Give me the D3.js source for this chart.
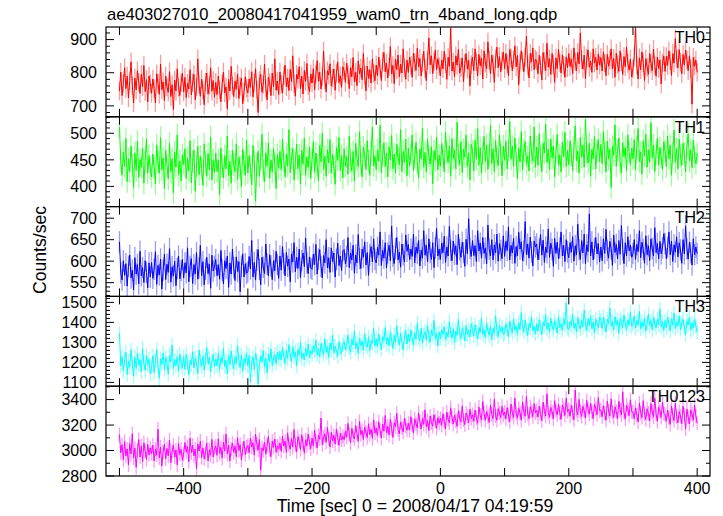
<!DOCTYPE html>
<html><head><meta charset="utf-8">
<script src="https://cdn.jsdelivr.net/npm/d3@7"></script>
<style>body{margin:0;background:#fff}svg{display:block}text{font-family:"Liberation Sans",Arial,sans-serif;fill:#000}</style>
</head><body><svg id="c" width="723" height="516"></svg>
<script>
const title = "ae403027010_20080417041959_wam0_trn_4band_long.qdp";
const xLabel = "Time [sec] 0 = 2008/04/17 04:19:59";
const yLabel = "Counts/sec";
const tStart = -500, tStep = 2;
const xTicks = [-500,-400,-300,-200,-100,0,100,200,300,400];
const xTickLabels = [-400,-200,0,200,400];
const bandNames = ["TH0","TH1","TH2","TH3","TH0123"];
const bandColors = ["#ff0000","#00ff00","#0000ff","#00ffff","#ff00ff"];
const bandErrors = [28,21,25,36,56];
const yDomains = [[667,938],[362,531],[518,727],[1081,1530],[2800,3505]];
const yMajor = [[700,800,900],[400,450,500],[550,600,650,700],[1100,1200,1300,1400,1500],[2800,3000,3200,3400]];
const yMinorStep = [20,10,10,20,100];

const th0 = [
745,802,731,768,815,752,790,724,776,833,761,709,784,748,806,771,737,795,758,822,743,779,712,790,766,
738,781,752,709,797,768,735,826,749,772,716,790,757,741,803,728,764,689,778,745,812,756,731,770,798,
742,786,725,768,751,809,733,770,795,718,757,842,764,729,781,748,703,772,799,736,760,815,744,777,726,
771,734,790,748,712,767,802,739,757,691,780,745,819,761,728,774,750,796,722,759,784,706,742,788,753,
739,781,756,803,727,769,812,748,680,776,795,741,764,826,753,718,787,770,731,799,758,842,747,775,734,
802,765,739,791,823,758,784,746,810,773,851,767,729,795,781,818,752,790,736,807,774,828,761,743,796,
769,812,748,795,837,774,802,751,788,865,779,742,806,793,827,760,784,811,747,799,833,770,791,756,818,
806,771,829,794,752,815,788,846,773,801,761,836,797,814,779,858,792,745,820,783,809,769,842,798,776,
823,791,847,812,776,835,861,803,829,784,818,879,796,822,767,841,809,853,788,826,799,872,815,780,838,
801,847,822,786,859,831,807,874,818,843,790,829,865,812,776,838,905,824,851,797,833,868,809,842,819,
791,838,812,865,827,780,846,819,934,805,832,788,851,823,870,799,816,845,773,829,858,811,837,760,824,
847,806,872,833,790,855,821,844,781,866,829,812,893,838,797,853,826,771,842,877,815,849,803,836,862,
812,858,827,791,870,845,806,839,881,818,852,764,829,866,835,803,847,910,821,784,858,832,875,809,841,
836,797,853,822,778,861,834,806,889,817,842,795,858,826,771,845,812,870,831,799,854,823,786,848,815,
858,819,842,797,875,833,806,861,826,920,838,811,853,782,844,869,817,835,801,872,829,846,808,857,823,
846,805,863,829,791,855,820,838,872,811,843,786,859,825,804,866,832,795,849,818,877,828,808,841,787,
812,849,936,823,781,845,809,863,830,776,842,817,795,858,828,806,871,821,789,847,813,838,766,829,851,
804,849,822,866,837,792,858,829,903,841,815,870,832,797,855,823,868,839,806,851,812,705,846,820,838,
801];
const th1 = [
512,448,421,465,437,490,409,452,428,476,441,398,463,430,485,417,451,436,472,406,447,489,425,458,433,
418,461,437,405,478,446,425,492,431,454,396,468,439,414,481,427,452,388,465,436,497,421,448,410,459,
442,471,415,453,429,486,407,447,468,391,438,475,422,457,434,402,480,445,419,462,431,493,412,450,426,
463,428,450,385,472,439,416,458,433,495,420,447,406,468,441,428,480,413,455,437,399,470,444,421,487,
425,458,436,403,477,448,372,441,466,419,452,498,430,409,463,438,482,415,450,427,471,443,396,460,434,
466,431,489,447,418,461,438,507,426,453,471,412,445,480,433,459,404,468,442,491,421,455,436,474,415,
450,484,427,463,439,411,478,446,500,432,457,419,469,444,488,425,461,437,404,473,449,492,430,458,416,
471,438,456,423,495,447,429,466,410,481,452,437,503,443,418,474,459,432,486,448,421,465,512,439,457,
431,469,447,515,426,458,482,437,463,418,475,450,496,433,461,425,479,454,441,507,428,466,445,489,420,
472,438,461,497,429,455,483,444,416,470,452,510,436,464,427,488,457,442,475,405,467,449,493,431,459,
438,481,456,427,502,463,445,476,419,490,452,468,433,521,459,441,484,426,470,455,497,437,463,412,479,
466,429,487,451,509,440,473,425,462,494,447,478,432,458,515,443,471,428,486,454,439,497,461,420,476,
449,485,433,467,522,451,476,438,491,459,414,472,446,503,431,468,484,442,457,429,495,463,447,512,436,
474,440,499,455,428,481,463,517,445,470,432,489,453,476,418,465,498,441,459,427,483,456,502,437,468,
441,486,459,430,473,514,448,466,425,492,455,478,436,527,462,444,481,419,470,452,494,433,467,488,447,
479,443,503,461,427,485,452,470,398,476,459,516,438,467,491,445,425,482,456,473,430,497,464,441,472,
452,488,431,474,509,447,465,423,486,457,498,436,469,445,520,453,478,428,462,491,440,473,455,432,484,
466,437,495,452,478,421,463,506,445,471,433,489,458,440,481,462,427,476,499,448,469,435,487,456,443,
462];
const th2 = [
645,573,556,601,567,594,542,588,614,561,579,533,608,570,592,547,623,566,585,550,601,574,538,596,563,
597,560,581,622,546,590,568,605,535,579,616,557,593,574,629,551,587,566,600,543,583,612,559,578,604,
561,596,573,631,552,588,606,548,592,570,620,558,584,637,566,599,545,581,609,571,593,537,614,577,588,
604,566,592,558,625,579,547,601,583,612,539,596,570,628,585,555,610,576,599,529,588,617,563,594,572,
575,611,582,648,563,597,556,603,627,581,545,609,586,571,640,593,566,615,589,557,601,578,623,592,560,
612,579,634,594,566,620,588,605,552,617,598,643,575,609,583,628,562,601,619,587,654,596,571,610,584,
581,616,592,639,570,605,627,588,561,613,596,650,584,608,574,631,599,619,563,604,642,590,612,578,624,
627,594,611,655,585,619,603,637,572,614,596,662,606,583,628,609,645,591,620,567,615,634,598,652,604,
596,632,614,668,590,625,607,643,584,619,637,601,682,612,594,629,655,603,621,586,640,615,598,661,623,
639,604,628,611,663,596,633,618,648,589,626,607,671,614,637,598,652,620,604,643,585,631,676,612,628,
604,642,619,658,597,633,612,681,625,601,647,616,636,592,663,627,609,644,620,588,651,617,699,630,611,
648,613,636,599,671,624,642,607,655,618,631,594,684,628,612,650,603,638,619,663,600,641,625,606,659,
611,646,625,680,603,637,619,653,595,634,612,667,628,645,601,624,692,615,640,607,656,621,589,647,633,
640,603,628,662,614,649,597,633,620,675,609,642,627,588,653,618,644,605,631,668,612,637,599,650,622,
608,643,621,657,600,636,615,686,627,604,648,619,663,594,638,622,710,612,645,603,630,655,617,641,598,
633,601,652,618,674,625,607,646,629,590,661,620,639,605,648,616,683,627,594,643,612,657,624,637,609,
618,650,604,639,622,671,608,644,627,595,659,615,636,601,652,629,612,678,620,641,605,646,617,631,664,
641,606,632,668,615,647,599,638,621,657,610,643,626,595,650,617,682,629,605,644,620,591,652,615,633,
618];
const th3 = [
1345,1182,1229,1158,1214,1251,1139,1207,1176,1263,1194,1131,1227,1170,1247,1186,1212,1153,1269,1197,1160,1236,1189,1216,1142,
1178,1233,1149,1209,1264,1183,1121,1218,1191,1247,1164,1224,1196,1141,1237,1204,1287,1169,1213,1185,1229,1157,1242,1198,1172,
1229,1166,1241,1196,1136,1211,1187,1253,1172,1220,1199,1145,1262,1208,1181,1233,1160,1214,1275,1193,1225,1152,1206,1240,1177,
1216,1184,1247,1163,1225,1198,1270,1178,1211,1143,1236,1189,1257,1204,1167,1229,1193,1284,1207,1174,1238,1156,1219,1195,1248,
1182,1235,1102,1198,1227,1165,1246,1210,1091,1188,1231,1203,1259,1176,1222,1148,1240,1205,1268,1185,1217,1239,1193,1252,1214,
1256,1211,1273,1230,1194,1262,1218,1289,1243,1205,1278,1226,1251,1183,1264,1236,1301,1219,1247,1212,1270,1233,1292,1225,1258,
1241,1283,1255,1312,1236,1268,1227,1294,1262,1240,1318,1251,1279,1224,1296,1265,1337,1248,1281,1257,1230,1303,1270,1245,1288,
1304,1263,1291,1337,1272,1250,1315,1287,1356,1269,1298,1245,1322,1284,1306,1261,1343,1290,1276,1328,1258,1310,1295,1371,1282,
1318,1279,1342,1297,1265,1330,1308,1374,1290,1325,1283,1351,1312,1270,1336,1299,1383,1316,1288,1345,1304,1262,1327,1359,1292,
1341,1303,1364,1322,1287,1348,1316,1395,1329,1310,1372,1296,1338,1355,1312,1387,1327,1301,1361,1334,1410,1318,1346,1283,1352,
1318,1362,1340,1379,1311,1351,1327,1404,1346,1322,1369,1298,1357,1335,1415,1343,1319,1372,1350,1308,1384,1338,1361,1326,1393,
1368,1331,1389,1352,1316,1375,1349,1422,1340,1363,1325,1394,1358,1337,1381,1312,1370,1346,1433,1361,1328,1385,1353,1376,1339,
1347,1392,1368,1326,1405,1372,1349,1418,1361,1384,1340,1398,1365,1450,1377,1353,1411,1369,1335,1394,1373,1426,1358,1381,1344,
1392,1356,1414,1375,1339,1401,1382,1438,1366,1397,1351,1420,1379,1362,1408,1385,1347,1429,1374,1393,1360,1417,1389,1498,1371,
1362,1405,1383,1441,1371,1396,1352,1424,1389,1367,1411,1378,1462,1394,1358,1419,1385,1432,1369,1402,1347,1415,1391,1374,1426,
1408,1369,1427,1390,1352,1416,1395,1473,1381,1406,1362,1429,1388,1411,1346,1420,1398,1374,1437,1392,1365,1413,1386,1451,1379,
1394,1432,1371,1410,1386,1455,1368,1402,1379,1421,1355,1396,1440,1383,1409,1362,1428,1391,1373,1415,1388,1467,1377,1404,1358,
1410,1373,1426,1391,1359,1418,1385,1447,1370,1403,1381,1432,1364,1398,1416,1376,1339,1408,1387,1425,1362,1396,1372,1415,1381,
1352];
const th0123 = [
3125,2982,3045,2928,3071,2958,3012,2887,3054,2973,3132,2941,3018,2868,3002,3086,2949,3036,2912,3061,2995,2931,3048,2967,3020,
2978,3043,2918,3012,2964,3168,2943,3027,2879,2991,3049,2934,3016,2957,3082,2903,2993,3041,2948,3004,2887,3055,2969,3010,2925,
2971,3063,2988,3031,2912,3098,2984,3042,2958,3011,2856,3051,2996,3074,2944,3021,2935,2982,3058,2917,3005,2963,3087,2949,3018,
3035,2962,3092,2978,3024,2940,3067,2995,3130,2972,3043,2918,3010,3058,2986,3034,2951,3101,2999,3047,2925,3015,3072,2968,3029,
3040,2983,3096,3027,3061,2964,3128,3051,3003,3087,2845,3022,2998,3065,2971,3043,3110,3008,2952,3074,3025,3091,2987,3036,3012,
3058,2993,3112,3036,3074,2985,3140,3049,3011,3093,3027,3165,3046,2990,3109,3071,3008,3125,3052,2979,3084,3037,3130,3060,3015,
3098,3035,3160,3072,3021,3117,3089,3255,3046,3105,3131,3063,3180,3094,3027,3142,3076,3119,3050,3168,3101,3040,3135,3083,3112,
3085,3152,3104,3213,3128,3060,3174,3117,3090,3196,3135,3071,3229,3124,3158,3086,3183,3142,3103,3210,3126,3167,3095,3241,3138,
3175,3118,3226,3160,3097,3208,3152,3275,3139,3190,3121,3245,3170,3103,3218,3187,3292,3165,3131,3223,3178,3146,3255,3192,3160,
3213,3161,3265,3198,3139,3247,3210,3178,3296,3225,3169,3251,3206,3320,3188,3234,3156,3270,3219,3192,3281,3230,3174,3258,3215,
3252,3199,3288,3227,3170,3301,3245,3216,3336,3261,3208,3279,3234,3190,3312,3256,3225,3350,3241,3203,3294,3268,3218,3325,3250,
3281,3229,3318,3256,3214,3342,3277,3240,3385,3290,3238,3305,3268,3221,3356,3284,3250,3402,3273,3237,3329,3295,3258,3347,3276,
3301,3248,3337,3279,3226,3365,3297,3260,3412,3289,3254,3330,3295,3238,3381,3302,3270,3425,3288,3251,3344,3310,3266,3369,3296,
3315,3262,3348,3290,3235,3380,3307,3271,3446,3298,3262,3339,3303,3247,3391,3314,3280,3362,3297,3244,3357,3323,3276,3410,3305,
3322,3270,3356,3297,3241,3475,3316,3280,3401,3307,3268,3348,3311,3255,3392,3324,3286,3370,3306,3250,3362,3330,3281,3415,3312,
3318,3266,3352,3294,3238,3389,3310,3272,3405,3301,3259,3343,3306,3248,3387,3318,3279,3461,3300,3246,3357,3323,3274,3398,3305,
3301,3252,3336,3279,3225,3371,3296,3259,3392,3287,3244,3328,3292,3233,3369,3303,3265,3410,3285,3230,3340,3308,3260,3381,3291,
3283,3230,3317,3259,3205,3351,3276,3236,3372,3267,3218,3306,3271,3210,3348,3281,3170,3325,3262,3208,3318,3287,3239,3356,3270,
3215];
const series = [th0, th1, th2, th3, th0123];

const svg = d3.select("#c");
const L = 106, R = 710, T = 27, B = 476;
const ph = (B - T) / 5;
const x = d3.scaleLinear().domain([-521, 420]).range([L, R]);
const bw = x(tStep) - x(0);

svg.append("text").attr("x", 107).attr("y", 20).attr("font-size", 16.6).text(title);

series.forEach((vals, k) => {
  const top = T + k * ph, bot = top + ph;
  const y = d3.scaleLinear().domain(yDomains[k]).range([bot, top]);
  const g = svg.append("g");
  const cid = "clip" + k;
  svg.append("clipPath").attr("id", cid).append("rect")
    .attr("x", L).attr("y", top).attr("width", R - L).attr("height", ph);
  const pts = vals.map((v, i) => ({t: tStart + i * tStep, v}));
  const dg = g.append("g").attr("clip-path", `url(#${cid})`);
  dg.selectAll("rect.err").data(pts).join("rect")
    .attr("x", d => x(d.t) - bw / 2).attr("width", bw)
    .attr("y", d => y(d.v + bandErrors[k])).attr("height", d => y(d.v - bandErrors[k]) - y(d.v + bandErrors[k]))
    .attr("fill", bandColors[k]).attr("fill-opacity", 0.4);
  dg.append("path").datum(pts)
    .attr("d", d3.line().x(d => x(d.t)).y(d => y(d.v)))
    .attr("fill", "none").attr("stroke", bandColors[k]).attr("stroke-width", 1);

  const [d0, d1] = yDomains[k];
  const minors = d3.range(Math.ceil(d0 / yMinorStep[k]) * yMinorStep[k], d1, yMinorStep[k]);
  minors.forEach(v => {
    const major = yMajor[k].includes(v);
    const len = major ? 8 : 4;
    g.append("line").attr("x1", L).attr("x2", L + len).attr("y1", y(v)).attr("y2", y(v)).attr("stroke", "#000");
    g.append("line").attr("x1", R).attr("x2", R - len).attr("y1", y(v)).attr("y2", y(v)).attr("stroke", "#000");
  });
  yMajor[k].forEach(v => {
    g.append("text").attr("x", 97).attr("y", y(v)).attr("dy", "0.36em")
      .attr("text-anchor", "end").attr("font-size", 16).text(v);
  });
  xTicks.forEach(t => {
    g.append("line").attr("x1", x(t)).attr("x2", x(t)).attr("y1", bot).attr("y2", bot - 8).attr("stroke", "#000");
    g.append("line").attr("x1", x(t)).attr("x2", x(t)).attr("y1", top).attr("y2", top + 8).attr("stroke", "#000");
  });
  g.append("rect").attr("x", L).attr("y", top).attr("width", R - L).attr("height", ph)
    .attr("fill", "none").attr("stroke", "#000").attr("stroke-width", 1.2);
  g.append("text").attr("x", 705).attr("y", top + 16).attr("text-anchor", "end")
    .attr("font-size", 16).text(bandNames[k]);
});

xTickLabels.forEach(t => {
  svg.append("text").attr("x", x(t)).attr("y", 494).attr("text-anchor", "middle")
    .attr("font-size", 16).text(t < 0 ? "\u2212" + Math.abs(t) : t);
});
svg.append("text").attr("x", 415).attr("y", 512).attr("text-anchor", "middle").attr("font-size", 17.6).text(xLabel);
svg.append("text").attr("transform", "translate(46,250) rotate(-90)").attr("text-anchor", "middle")
  .attr("font-size", 17.6).text(yLabel);
</script></body></html>
